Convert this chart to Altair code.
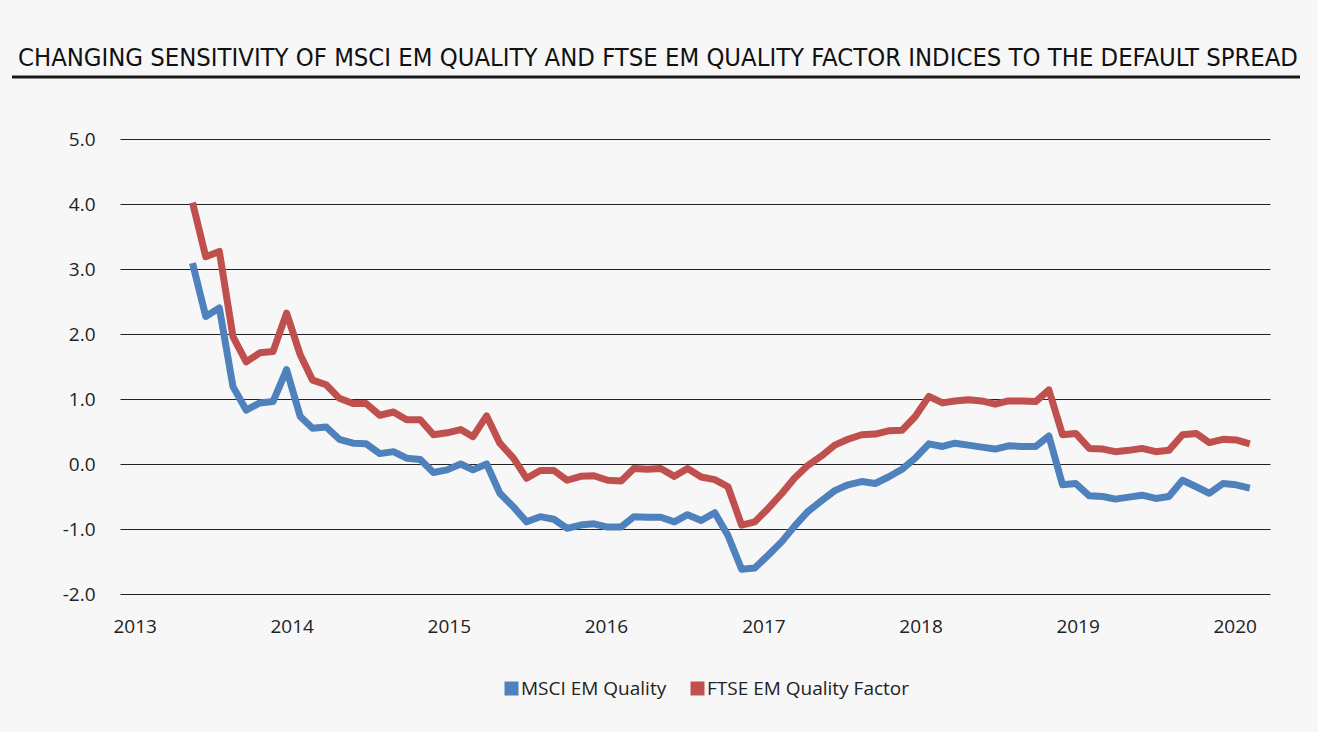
import altair as alt
import pandas as pd

# Monthly observations, June 2013 .. January 2020 (80 points)
msci_em_quality = [
    3.09, 2.27, 2.40, 1.19, 0.83, 0.94, 0.96, 1.45, 0.73, 0.55,
    0.57, 0.38, 0.32, 0.31, 0.16, 0.19, 0.09, 0.07, -0.13, -0.09,
    0.00, -0.09, 0.00, -0.45, -0.66, -0.89, -0.81, -0.85, -0.99, -0.94,
    -0.92, -0.97, -0.97, -0.81, -0.82, -0.82, -0.89, -0.78, -0.87, -0.75,
    -1.10, -1.62, -1.60, -1.40, -1.19, -0.96, -0.73, -0.57, -0.41, -0.32,
    -0.27, -0.30, -0.20, -0.08, 0.09, 0.31, 0.27, 0.32, 0.29, 0.26,
    0.23, 0.28, 0.27, 0.27, 0.43, -0.32, -0.30, -0.49, -0.50, -0.54,
    -0.51, -0.48, -0.53, -0.50, -0.25, -0.35, -0.45, -0.30, -0.32, -0.37,
]
ftse_em_quality_factor = [
    4.02, 3.19, 3.27, 1.96, 1.57, 1.71, 1.73, 2.32, 1.68, 1.29,
    1.22, 1.01, 0.93, 0.93, 0.75, 0.80, 0.68, 0.68, 0.45, 0.48,
    0.53, 0.42, 0.74, 0.32, 0.09, -0.22, -0.10, -0.10, -0.25, -0.19,
    -0.18, -0.25, -0.26, -0.07, -0.08, -0.07, -0.19, -0.07, -0.20, -0.24,
    -0.35, -0.94, -0.89, -0.68, -0.45, -0.22, -0.02, 0.12, 0.29, 0.38,
    0.45, 0.46, 0.51, 0.52, 0.73, 1.04, 0.94, 0.97, 0.99, 0.97,
    0.92, 0.97, 0.97, 0.96, 1.14, 0.45, 0.47, 0.24, 0.23, 0.19,
    0.21, 0.24, 0.19, 0.21, 0.45, 0.47, 0.33, 0.38, 0.37, 0.31,
]
dates = [f"{2013 + (5 + i) // 12}-{(5 + i) % 12 + 1:02d}-15" for i in range(len(msci_em_quality))]
series_names = ["MSCI EM Quality", "FTSE EM Quality Factor"]
series_colors = ["#4f81bd", "#c0504d"]
y_ticks = [-2, -1, 0, 1, 2, 3, 4, 5]
year_labels = ["2013", "2014", "2015", "2016", "2017", "2018", "2019", "2020"]

df = pd.concat([
    pd.DataFrame({"date": dates, "value": msci_em_quality, "series": series_names[0]}),
    pd.DataFrame({"date": dates, "value": ftse_em_quality_factor, "series": series_names[1]}),
])
years_df = pd.DataFrame({"year": [f"{y}-01-01" for y in year_labels]})

title_text = ("CHANGING SENSITIVITY OF MSCI EM QUALITY AND FTSE EM QUALITY FACTOR "
              "INDICES TO THE DEFAULT SPREAD")

lines = alt.Chart(df).mark_line(strokeWidth=7, strokeJoin="round").encode(
    x=alt.X("date:T",
            scale=alt.Scale(domain=["2013-01-01", "2020-03-01"]),
            axis=None),
    y=alt.Y("value:Q",
            scale=alt.Scale(domain=[-2, 5], nice=False),
            axis=alt.Axis(values=y_ticks,
                          labelExpr="(datum.value < 0 ? '-' : '') + format(abs(datum.value), '.1f')",
                          grid=True, gridColor="#222222",
                          gridWidth=1.2, domain=False, ticks=False, labelPadding=25,
                          title=None)),
    color=alt.Color("series:N",
                    scale=alt.Scale(domain=series_names, range=series_colors),
                    sort=series_names,
                    legend=alt.Legend(title=None, orient="none", direction="horizontal",
                                      legendX=382, legendY=540, padding=0,
                                      symbolType="square", symbolSize=25,
                                      symbolStrokeWidth=9, labelFontSize=19,
                                      labelFont="Open Sans", labelColor="#222222",
                                      labelLimit=0, columnPadding=10, labelOffset=0)),
)

year_axis = alt.Chart(years_df).mark_point(opacity=0).encode(
    x=alt.X("year:T",
            scale=alt.Scale(domain=["2012-11-28", "2020-03-23"]),
            axis=alt.Axis(format="%Y", values=[f"{y}-01-01" for y in year_labels],
                          orient="bottom", grid=False, domain=False, ticks=False,
                          labelFlush=False, labelPadding=23, title=None)),
)

underline = alt.Chart(pd.DataFrame({"k": [0]})).mark_rule(
    color="#1a1a1a", strokeWidth=3
).encode(x=alt.value(-108), x2=alt.value(1180), y=alt.value(-62))

chart = alt.layer(lines, year_axis, underline).resolve_scale(x="independent").properties(
    width=1150, height=455,
    autosize=alt.AutoSizeParams(type="none"),
    padding={"left": 120, "top": 139, "right": 48, "bottom": 138},
    background="#f7f7f7",
    title=alt.TitleParams(title_text, anchor="start", frame="group", dx=-102,
                          offset=4, font="'Liberation Sans Narrow', 'DejaVu Sans Condensed', sans-serif",
                          fontSize=25.4, fontWeight="normal", color="#111111"),
).configure_axis(
    labelFont="Open Sans", labelFontSize=19, labelColor="#222222"
).configure_view(stroke=None)

chart.save("out.html", embed_options={"renderer": "svg", "actions": False})
